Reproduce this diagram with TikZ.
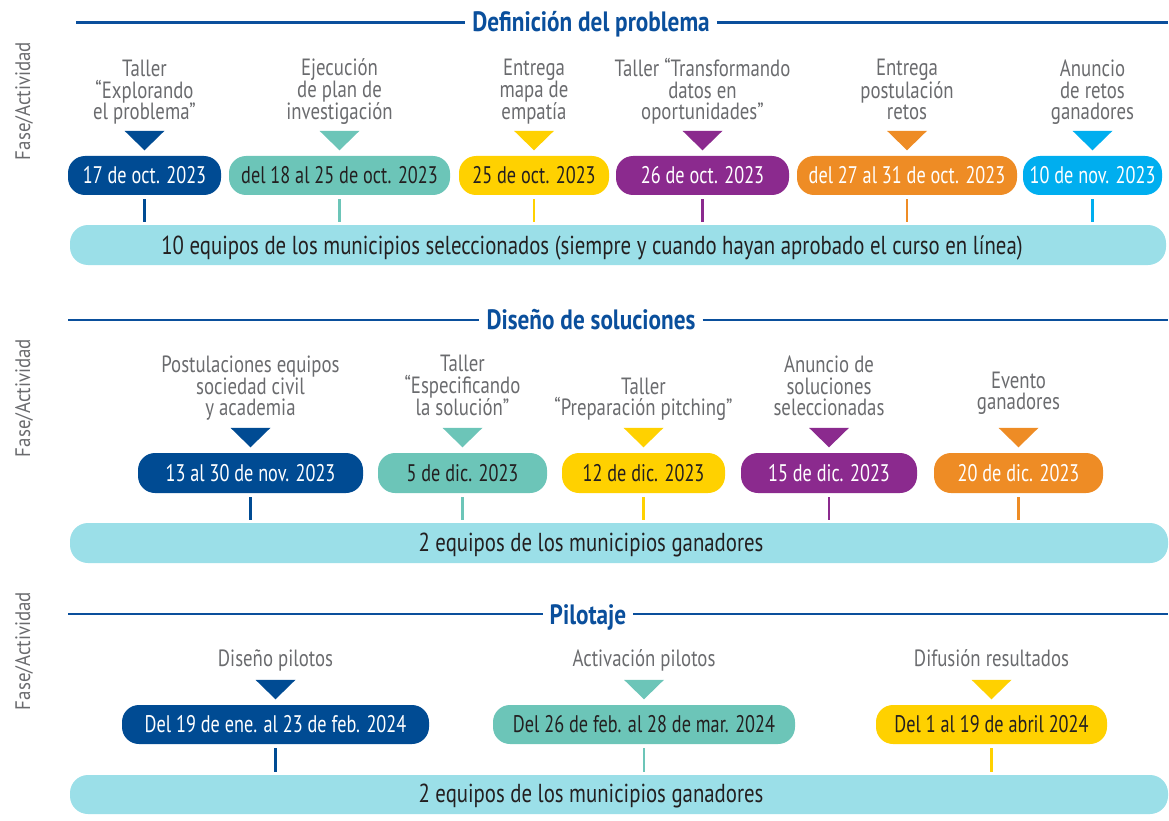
\documentclass[tikz,border=0pt]{standalone}
\usepackage{fontspec}
\setmainfont{PT Sans}[FakeStretch=0.78]
\newfontfamily\lblff{PT Sans}[FakeStretch=0.80]
\newfontfamily\dateff{PT Sans}[FakeStretch=0.76]
\newfontfamily\barff{PT Sans}[FakeStretch=0.80]
\newfontfamily\titleff{PT Sans Bold}[FakeStretch=0.83]
\newfontfamily\sideff{PT Sans}[FakeStretch=0.90]
\usetikzlibrary{calc}
\definecolor{dblue}{HTML}{004B93}
\definecolor{teal}{HTML}{6CC5B8}
\definecolor{yel}{HTML}{FFD100}
\definecolor{purp}{HTML}{8B2A8E}
\definecolor{oran}{HTML}{EE8C25}
\definecolor{cyan}{HTML}{00AEEF}
\definecolor{barc}{HTML}{9BDFE8}
\definecolor{lblgray}{HTML}{6A6B6E}
\definecolor{darktxt}{HTML}{231F20}
\definecolor{titleblue}{HTML}{0A4F9C}
\newcommand\lblfont{\lblff\fontsize{23.5}{21.5}\selectfont}
\newcommand\datefont{\dateff\fontsize{24}{24}\selectfont}
\newcommand\barfont{\barff\fontsize{26}{26}\selectfont}
\newcommand\titlefont{\titleff\fontsize{28}{28}\selectfont}
\newcommand\sidefont{\sideff\fontsize{21}{21}\selectfont}
\tikzset{
 pill/.style={rounded corners=17pt, minimum height=39pt, inner sep=0pt, font=\datefont},
 lbl/.style={align=center, text=lblgray, font=\lblfont, anchor=south, inner sep=0pt, execute at end node={\strut}},
 barbox/.style={fill=barc, rounded corners=18pt, minimum height=40pt, inner sep=0pt},
 bartext/.style={text=darktxt, font=\barfont, anchor=base, inner sep=0pt},
 ttl/.style={text=titleblue, font=\titlefont, anchor=base, inner xsep=7pt, inner ysep=0pt},
 tline/.style={line width=2.5pt, draw=titleblue},
 side/.style={rotate=90, text=lblgray, font=\sidefont, inner sep=0pt},
 tickln/.style={line width=2.5pt},
}
\newcommand\tri[2]{\fill[#1] ([xshift=-20pt,yshift=25pt]#2.north) -- ([xshift=20pt,yshift=25pt]#2.north) -- ([yshift=5.5pt]#2.north) -- cycle;}
\newcommand\tck[3]{\draw[tickln,#1] ([yshift=-4pt]#2.south) -- ([yshift=3pt]#2.south |- #3.north);}
\begin{document}
\begin{tikzpicture}[x=1pt,y=-1pt]
\useasboundingbox (0,0) rectangle (1169,821);
% ---------------- Section 1
\node[side] (s1) at (24,101) {Fase/Actividad};
\node[ttl] (t1) at (591,32) {Definición del problema};
\coordinate (l1) at (76,22.5);
\coordinate (r1) at (1168,22.5);
\draw[tline] (l1) -- (l1 -| t1.west);
\draw[tline] (r1 -| t1.east) -- (r1);
\node[barbox, minimum width=1096pt] (b1) at (618,245) {};
\node[bartext] (b1t) at (592,254) {10 equipos de los municipios seleccionados (siempre y cuando hayan aprobado el curso en línea)};
\node[pill, fill=dblue, text=white, minimum width=153pt] (p11) at (144.5,175.5) {17 de oct. 2023};
\node[pill, fill=teal, text=darktxt, minimum width=221pt] (p12) at (339.5,175.5) {del 18 al 25 de oct. 2023};
\node[pill, fill=yel, text=darktxt, minimum width=150pt] (p13) at (534,175.5) {25 de oct. 2023};
\node[pill, fill=purp, text=white, minimum width=173pt] (p14) at (702.5,175.5) {26 de oct. 2023};
\node[pill, fill=oran, text=white, minimum width=220pt] (p15) at (907,175.5) {del 27 al 31 de oct. 2023};
\node[pill, fill=cyan, text=white, minimum width=139pt] (p16) at (1092.5,175.5) {10 de nov. 2023};
\node[lbl] (a11) at (144.5,126.5) {Taller\\“Explorando\\el problema”};
\node[lbl] (a12) at (339.5,126.5) {Ejecución\\de plan de\\investigación};
\node[lbl] (a13) at (534,126.5) {Entrega\\mapa de\\empatía};
\node[lbl] (a14) at (702.5,126.5) {Taller “Transformando\\datos en\\oportunidades”};
\node[lbl] (a15) at (907,126.5) {Entrega\\postulación\\retos};
\node[lbl] (a16) at (1092.5,126.5) {Anuncio\\de retos\\ganadores};
\tri{dblue}{p11} \tri{teal}{p12} \tri{yel}{p13} \tri{purp}{p14} \tri{oran}{p15} \tri{cyan}{p16}
\tck{dblue}{p11}{b1} \tck{teal}{p12}{b1} \tck{yel}{p13}{b1} \tck{purp}{p14}{b1} \tck{oran}{p15}{b1} \tck{cyan}{p16}{b1}
% ---------------- Section 2
\node[side] (s2) at (24,398) {Fase/Actividad};
\node[ttl] (t2) at (591,329) {Diseño de soluciones};
\coordinate (l2) at (68,320);
\coordinate (r2) at (1168,320);
\draw[tline] (l2) -- (l2 -| t2.west);
\draw[tline] (r2 -| t2.east) -- (r2);
\node[barbox, minimum width=1098pt] (b2) at (619,543) {};
\node[bartext] (b2t) at (591,551) {2 equipos de los municipios ganadores};
\node[pill, fill=dblue, text=white, minimum width=225pt, minimum height=40pt] (p21) at (250.5,473) {13 al 30 de nov. 2023};
\node[pill, fill=teal, text=darktxt, minimum width=169pt, minimum height=40pt] (p22) at (462.5,473) {5 de dic. 2023};
\node[pill, fill=yel, text=darktxt, minimum width=163pt, minimum height=40pt] (p23) at (643.5,473) {12 de dic. 2023};
\node[pill, fill=purp, text=white, minimum width=176pt, minimum height=40pt] (p24) at (829,473) {15 de dic. 2023};
\node[pill, fill=oran, text=white, minimum width=169pt, minimum height=40pt] (p25) at (1018.5,473) {20 de dic. 2023};
\node[lbl] (a21) at (250.5,422.5) {Postulaciones equipos\\sociedad civil\\y academia};
\node[lbl] (a22) at (462.5,422.5) {Taller\\“Especificando\\la solución”};
\node[lbl] (a23) at (643.5,422.5) {Taller\\“Preparación pitching”};
\node[lbl] (a24) at (829,422.5) {Anuncio de\\soluciones\\seleccionadas};
\node[lbl] (a25) at (1018.5,416.5) {Evento\\ganadores};
\tri{dblue}{p21} \tri{teal}{p22} \tri{yel}{p23} \tri{purp}{p24} \tri{oran}{p25}
\tck{dblue}{p21}{b2} \tck{teal}{p22}{b2} \tck{yel}{p23}{b2} \tck{purp}{p24}{b2} \tck{oran}{p25}{b2}
% ---------------- Section 3
\node[side] (s3) at (24,651) {Fase/Actividad};
\node[ttl] (t3) at (588,624) {Pilotaje};
\coordinate (l3) at (68,614);
\coordinate (r3) at (1168,614);
\draw[tline] (l3) -- (l3 -| t3.west);
\draw[tline] (r3 -| t3.east) -- (r3);
\node[barbox, minimum width=1098pt, minimum height=39pt] (b3) at (619,794.5) {};
\node[bartext] (b3t) at (591,802) {2 equipos de los municipios ganadores};
\node[pill, fill=dblue, text=white, minimum width=307pt] (p31) at (275.5,724.5) {Del 19 de ene. al 23 de feb. 2024};
\node[pill, fill=teal, text=darktxt, minimum width=302pt] (p32) at (644,724.5) {Del 26 de feb. al 28 de mar. 2024};
\node[pill, fill=yel, text=darktxt, minimum width=231pt] (p33) at (991.5,724.5) {Del 1 al 19 de abril 2024};
\node[lbl] (a31) at (275.5,673.5) {Diseño pilotos};
\node[lbl] (a32) at (644,673.5) {Activación pilotos};
\node[lbl] (a33) at (991.5,673.5) {Difusión resultados};
\tri{dblue}{p31} \tri{teal}{p32} \tri{yel}{p33}
\tck{dblue}{p31}{b3} \tck{teal}{p32}{b3} \tck{yel}{p33}{b3}
\end{tikzpicture}
\end{document}
